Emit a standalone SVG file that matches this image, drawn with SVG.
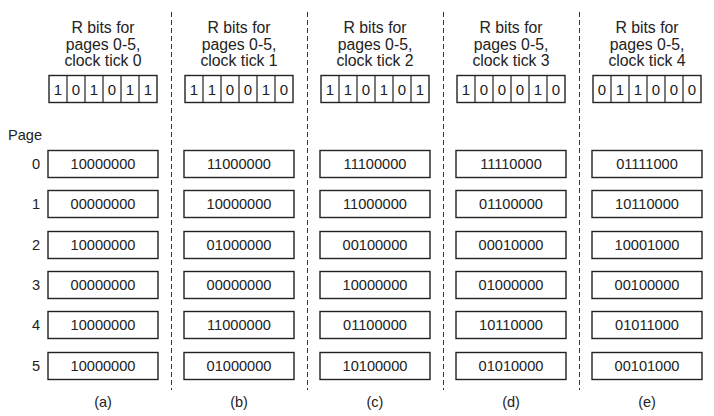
<svg xmlns="http://www.w3.org/2000/svg" width="714" height="416" viewBox="0 0 714 416">
<style>
text{font-family:"Liberation Sans",Arial,sans-serif;fill:#222;}
.h{font-size:15.8px;text-anchor:middle;}
.b{font-size:15px;text-anchor:middle;}
.c{font-size:14.6px;text-anchor:middle;}
.n{font-size:14.6px;text-anchor:end;}
.lbl{font-size:14.5px;text-anchor:middle;}
.box{fill:#fff;stroke:#222;stroke-width:1.4;}
.cell{fill:none;stroke:#222;stroke-width:1.2;}
.dash{stroke:#333;stroke-width:1;stroke-dasharray:5,3;fill:none;}
</style>
<g id="separators">
<line class="dash" x1="171.5" y1="12" x2="171.5" y2="390"/>
<line class="dash" x1="307.5" y1="12" x2="307.5" y2="390"/>
<line class="dash" x1="443.5" y1="12" x2="443.5" y2="390"/>
<line class="dash" x1="579.5" y1="12" x2="579.5" y2="390"/>
</g>
<g id="page-labels">
<text x="8" y="139.5" style="font-size:14.6px">Page</text>
<text class="n" x="40" y="169">0</text>
<text class="n" x="40" y="209">1</text>
<text class="n" x="40" y="250">2</text>
<text class="n" x="40" y="290">3</text>
<text class="n" x="40" y="330">4</text>
<text class="n" x="40" y="371">5</text>
</g>
<g id="col-a">
<text class="h" x="103" y="33">R bits for</text>
<text class="h" x="103" y="50">pages 0-5,</text>
<text class="h" x="103" y="66">clock tick 0</text>
<rect class="box" x="49" y="75.5" width="108" height="27"/>
<path class="cell" d="M67 75.5V102.5M85 75.5V102.5M103 75.5V102.5M121 75.5V102.5M139 75.5V102.5"/>
<text class="b" x="58" y="94.5">1</text><text class="b" x="76" y="94.5">0</text><text class="b" x="94" y="94.5">1</text><text class="b" x="112" y="94.5">0</text><text class="b" x="130" y="94.5">1</text><text class="b" x="148" y="94.5">1</text>
<rect class="box" x="48" y="150.5" width="110" height="27"/><text class="c" x="103" y="169">10000000</text>
<rect class="box" x="48" y="190.5" width="110" height="27"/><text class="c" x="103" y="209">00000000</text>
<rect class="box" x="48" y="231.5" width="110" height="27"/><text class="c" x="103" y="250">10000000</text>
<rect class="box" x="48" y="271.5" width="110" height="27"/><text class="c" x="103" y="290">00000000</text>
<rect class="box" x="48" y="311.5" width="110" height="27"/><text class="c" x="103" y="330">10000000</text>
<rect class="box" x="48" y="352.5" width="110" height="27"/><text class="c" x="103" y="371">10000000</text>
<text class="lbl" x="103" y="407">(a)</text>
</g>
<g id="col-b">
<text class="h" x="239" y="33">R bits for</text>
<text class="h" x="239" y="50">pages 0-5,</text>
<text class="h" x="239" y="66">clock tick 1</text>
<rect class="box" x="185" y="75.5" width="108" height="27"/>
<path class="cell" d="M203 75.5V102.5M221 75.5V102.5M239 75.5V102.5M257 75.5V102.5M275 75.5V102.5"/>
<text class="b" x="194" y="94.5">1</text><text class="b" x="212" y="94.5">1</text><text class="b" x="230" y="94.5">0</text><text class="b" x="248" y="94.5">0</text><text class="b" x="266" y="94.5">1</text><text class="b" x="284" y="94.5">0</text>
<rect class="box" x="184" y="150.5" width="110" height="27"/><text class="c" x="239" y="169">11000000</text>
<rect class="box" x="184" y="190.5" width="110" height="27"/><text class="c" x="239" y="209">10000000</text>
<rect class="box" x="184" y="231.5" width="110" height="27"/><text class="c" x="239" y="250">01000000</text>
<rect class="box" x="184" y="271.5" width="110" height="27"/><text class="c" x="239" y="290">00000000</text>
<rect class="box" x="184" y="311.5" width="110" height="27"/><text class="c" x="239" y="330">11000000</text>
<rect class="box" x="184" y="352.5" width="110" height="27"/><text class="c" x="239" y="371">01000000</text>
<text class="lbl" x="239" y="407">(b)</text>
</g>
<g id="col-c">
<text class="h" x="375" y="33">R bits for</text>
<text class="h" x="375" y="50">pages 0-5,</text>
<text class="h" x="375" y="66">clock tick 2</text>
<rect class="box" x="321" y="75.5" width="108" height="27"/>
<path class="cell" d="M339 75.5V102.5M357 75.5V102.5M375 75.5V102.5M393 75.5V102.5M411 75.5V102.5"/>
<text class="b" x="330" y="94.5">1</text><text class="b" x="348" y="94.5">1</text><text class="b" x="366" y="94.5">0</text><text class="b" x="384" y="94.5">1</text><text class="b" x="402" y="94.5">0</text><text class="b" x="420" y="94.5">1</text>
<rect class="box" x="320" y="150.5" width="110" height="27"/><text class="c" x="375" y="169">11100000</text>
<rect class="box" x="320" y="190.5" width="110" height="27"/><text class="c" x="375" y="209">11000000</text>
<rect class="box" x="320" y="231.5" width="110" height="27"/><text class="c" x="375" y="250">00100000</text>
<rect class="box" x="320" y="271.5" width="110" height="27"/><text class="c" x="375" y="290">10000000</text>
<rect class="box" x="320" y="311.5" width="110" height="27"/><text class="c" x="375" y="330">01100000</text>
<rect class="box" x="320" y="352.5" width="110" height="27"/><text class="c" x="375" y="371">10100000</text>
<text class="lbl" x="375" y="407">(c)</text>
</g>
<g id="col-d">
<text class="h" x="511" y="33">R bits for</text>
<text class="h" x="511" y="50">pages 0-5,</text>
<text class="h" x="511" y="66">clock tick 3</text>
<rect class="box" x="457" y="75.5" width="108" height="27"/>
<path class="cell" d="M475 75.5V102.5M493 75.5V102.5M511 75.5V102.5M529 75.5V102.5M547 75.5V102.5"/>
<text class="b" x="466" y="94.5">1</text><text class="b" x="484" y="94.5">0</text><text class="b" x="502" y="94.5">0</text><text class="b" x="520" y="94.5">0</text><text class="b" x="538" y="94.5">1</text><text class="b" x="556" y="94.5">0</text>
<rect class="box" x="456" y="150.5" width="110" height="27"/><text class="c" x="511" y="169">11110000</text>
<rect class="box" x="456" y="190.5" width="110" height="27"/><text class="c" x="511" y="209">01100000</text>
<rect class="box" x="456" y="231.5" width="110" height="27"/><text class="c" x="511" y="250">00010000</text>
<rect class="box" x="456" y="271.5" width="110" height="27"/><text class="c" x="511" y="290">01000000</text>
<rect class="box" x="456" y="311.5" width="110" height="27"/><text class="c" x="511" y="330">10110000</text>
<rect class="box" x="456" y="352.5" width="110" height="27"/><text class="c" x="511" y="371">01010000</text>
<text class="lbl" x="511" y="407">(d)</text>
</g>
<g id="col-e">
<text class="h" x="647" y="33">R bits for</text>
<text class="h" x="647" y="50">pages 0-5,</text>
<text class="h" x="647" y="66">clock tick 4</text>
<rect class="box" x="593" y="75.5" width="108" height="27"/>
<path class="cell" d="M611 75.5V102.5M629 75.5V102.5M647 75.5V102.5M665 75.5V102.5M683 75.5V102.5"/>
<text class="b" x="602" y="94.5">0</text><text class="b" x="620" y="94.5">1</text><text class="b" x="638" y="94.5">1</text><text class="b" x="656" y="94.5">0</text><text class="b" x="674" y="94.5">0</text><text class="b" x="692" y="94.5">0</text>
<rect class="box" x="592" y="150.5" width="110" height="27"/><text class="c" x="647" y="169">01111000</text>
<rect class="box" x="592" y="190.5" width="110" height="27"/><text class="c" x="647" y="209">10110000</text>
<rect class="box" x="592" y="231.5" width="110" height="27"/><text class="c" x="647" y="250">10001000</text>
<rect class="box" x="592" y="271.5" width="110" height="27"/><text class="c" x="647" y="290">00100000</text>
<rect class="box" x="592" y="311.5" width="110" height="27"/><text class="c" x="647" y="330">01011000</text>
<rect class="box" x="592" y="352.5" width="110" height="27"/><text class="c" x="647" y="371">00101000</text>
<text class="lbl" x="647" y="407">(e)</text>
</g>
</svg>
